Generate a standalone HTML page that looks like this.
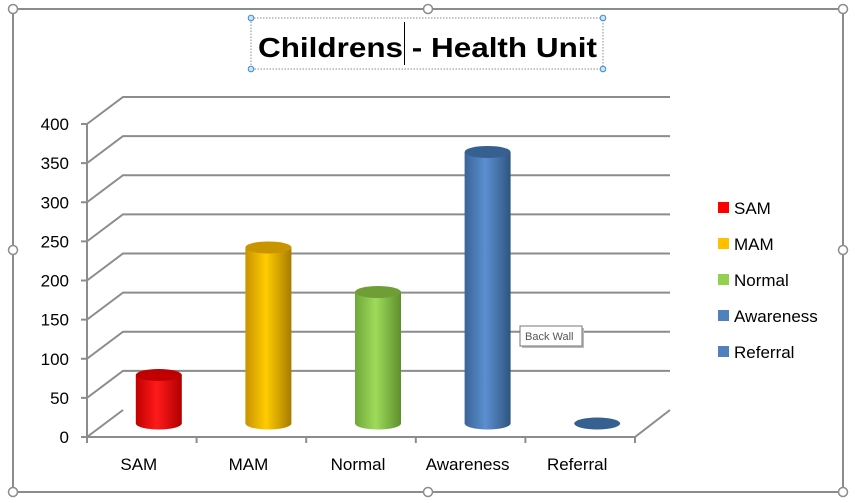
<!DOCTYPE html>
<html><head><meta charset="utf-8"><style>
html,body{margin:0;padding:0;background:#fff;width:855px;height:503px;overflow:hidden}
svg{display:block;font-family:"Liberation Sans",Arial,sans-serif}
</style></head><body>
<svg id="c" width="855" height="503" viewBox="0 0 855 503">
<defs>
<linearGradient id="gRed" x1="0" x2="1"><stop offset="0" stop-color="#c00000"/><stop offset="0.45" stop-color="#ff1a1a"/><stop offset="1" stop-color="#b00000"/></linearGradient>
<linearGradient id="gYel" x1="0" x2="1"><stop offset="0" stop-color="#c89400"/><stop offset="0.45" stop-color="#ffcc00"/><stop offset="1" stop-color="#a87a00"/></linearGradient>
<linearGradient id="gGrn" x1="0" x2="1"><stop offset="0" stop-color="#6fa83a"/><stop offset="0.45" stop-color="#9edb5a"/><stop offset="1" stop-color="#5e8f2c"/></linearGradient>
<linearGradient id="gBlu" x1="0" x2="1"><stop offset="0" stop-color="#3a6496"/><stop offset="0.45" stop-color="#5b8fd0"/><stop offset="1" stop-color="#2f5580"/></linearGradient>
</defs>
<rect x="13" y="9" width="830" height="483" fill="none" stroke="#8c8c8c" stroke-width="2"/>
<g id="grid"></g>
<g id="bars"></g>
<g id="cats"></g>
<g id="legend"></g>
<rect x="251" y="18" width="352" height="51" fill="none" stroke="#888" stroke-dasharray="1.5,1.5"/>
<text x="258" y="57" font-size="28" font-weight="bold" textLength="339" lengthAdjust="spacingAndGlyphs">Childrens - Health Unit</text>
<line x1="404.5" y1="22" x2="404.5" y2="65" stroke="#000"/>
<g id="handles"></g>
<g>
<rect x="522" y="328" width="62" height="20" fill="#bbb"/>
<rect x="520" y="326" width="62" height="20" fill="#fff" stroke="#777"/>
<text x="525" y="340" font-size="11" fill="#555">Back Wall</text>
</g>
</svg>
<script>
const categories=["SAM","MAM","Normal","Awareness","Referral"];
const values=[62,225,168,347,0];
const yTicks=[0,50,100,150,200,250,300,350,400];
const fills=["url(#gRed)","url(#gYel)","url(#gGrn)","url(#gBlu)","url(#gBlu)"];
const tops=["#c00000","#c89400","#6f9e36","#36608f","#36608f"];
const legendColors=["#ff0000","#ffc000","#92d050","#4f81bd","#4f81bd"];
const NS="http://www.w3.org/2000/svg";
function mk(t,a,p){const e=document.createElementNS(NS,t);for(const k in a)e.setAttribute(k,a[k]);p.appendChild(e);return e;}
const fx0=87,fy0=437,bx0=123,by0=410,bx1=670,fx1=635,k=313/400;
function yF(v){return fy0-v*k;}
function yB(v){return by0-v*k;}
function yM(v){return 423.5-v*k;}
const step=(fx1-fx0)/categories.length;
function xC(i){return fx0+step*(i+0.5)+17;}
const grid=document.getElementById('grid');
const ln={stroke:"#8c8c8c","stroke-width":2,fill:"none"};
yTicks.forEach(v=>{
 const g=mk('g',{},grid);
 
 
 if(v>0){mk('polyline',Object.assign({points:`${fx0},${yF(v)} ${bx0},${yB(v)} ${bx1},${yB(v)}`},ln),g);}
 mk('line',Object.assign({x1:fx0-6,y1:yF(v),x2:fx0,y2:yF(v)},ln),g);
 const t=mk('text',{x:fx0-18,y:yF(v)+6,"font-size":17,"text-anchor":"end",fill:"#000"},g);
 t.textContent=v;
 
 
});
mk('line',Object.assign({x1:fx0,y1:yF(0),x2:fx0,y2:yF(400)},ln),grid);
mk('polyline',Object.assign({points:`${fx0},${fy0} ${fx1},${fy0} ${bx1},${by0}`},ln),grid);
mk('line',Object.assign({x1:fx0,y1:fy0,x2:bx0,y2:by0},ln),grid);
for(let i=0;i<=categories.length;i++){const x=fx0+step*i;mk('line',Object.assign({x1:x,y1:fy0,x2:x,y2:fy0+6},ln),grid);}
const bars=document.getElementById('bars');
const w=46,ry=6;
values.forEach((v,i)=>{
 const cx=xC(i),g=mk('g',{},bars);
 
 
 const yb=yM(0),yt=yM(v);
 if(v>0){
  mk('path',{d:`M${cx-w/2},${yt} L${cx-w/2},${yb} A${w/2},${ry} 0 0 0 ${cx+w/2},${yb} L${cx+w/2},${yt} Z`,fill:fills[i]},g);
 }
 mk('ellipse',{cx:cx,cy:yt,rx:w/2,ry:ry,fill:tops[i]},g);
});
const cats=document.getElementById('cats');
categories.forEach((c,i)=>{
 const t=mk('text',{x:fx0+step*(i+0.5)-3,y:470,"font-size":17,"text-anchor":"middle"},cats);
 t.textContent=c;
 
 
});
const lg=document.getElementById('legend');
categories.forEach((c,i)=>{
 const y=208+i*36;
 const g=mk('g',{},lg);
 
 
 mk('rect',{x:718,y:y-6,width:11,height:11,fill:legendColors[i]},g);
 const t=mk('text',{x:734,y:y+6,"font-size":17},g);t.textContent=c;
});
const h=document.getElementById('handles');
[[13,9],[428,9],[843,9],[13,250],[843,250],[13,492],[428,492],[843,492]].forEach(p=>{
 mk('circle',{cx:p[0],cy:p[1],r:4.5,fill:"#fff",stroke:"#8c8c8c","stroke-width":1.5},h);
});
[[251,18],[603,18],[251,69],[603,69]].forEach(p=>{
 mk('circle',{cx:p[0],cy:p[1],r:2.8,fill:"#cfe3f7",stroke:"#3c8ad6","stroke-width":1},h);
});
</script>
</body></html>
